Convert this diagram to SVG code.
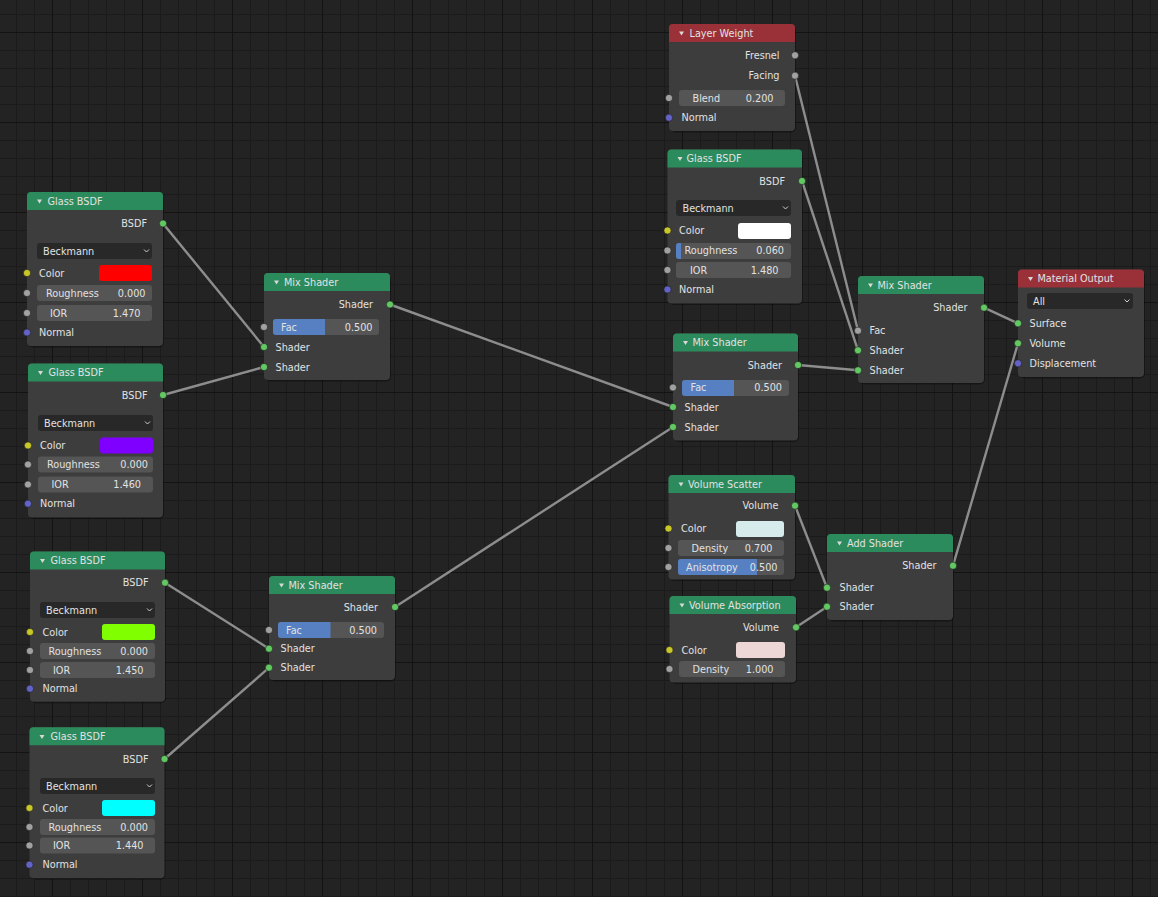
<svg xmlns="http://www.w3.org/2000/svg" width="1158" height="897" viewBox="0 0 1158 897">
<style>
.n{fill:#3d3d3d}
.sh{fill:#000;opacity:.35}
.hg{fill:#2c8b5c}
.hr{fill:#9a3038}
.tri{fill:#d8d8d8}
text{font-family:"DejaVu Sans","Liberation Sans",sans-serif;font-size:9.7px;fill:#e2e2e2}
.e{text-anchor:end}
.dd{fill:#282828}
.f{fill:#555555}
.bl{fill:#5680c2}
.ch{fill:none;stroke:#cfcfcf;stroke-width:1}
.sg,.sa,.sy,.sv{stroke:#1c1c1c;stroke-width:.6}
.sg{fill:#63c763}
.sa{fill:#a1a1a1}
.sy{fill:#c7c729}
.sv{fill:#6363c7}
.lk{stroke:#8d8d8d;stroke-width:2.4;fill:none;stroke-linecap:round}
</style>
<defs>
<pattern id="minor" width="18" height="18" x="16" y="14" patternUnits="userSpaceOnUse">
<rect width="1" height="18" fill="#1b1b1b"/><rect width="18" height="1" fill="#1b1b1b"/>
</pattern>
<pattern id="major" width="90" height="90" x="52" y="32" patternUnits="userSpaceOnUse">
<rect width="1" height="90" fill="#131313"/><rect width="90" height="1" fill="#131313"/>
</pattern>
</defs>
<rect width="1158" height="897" fill="#232323"/>
<rect width="1158" height="897" fill="url(#minor)"/>
<rect width="1158" height="897" fill="url(#major)"/>

<g id="connectors">
<path class="lk" d="M163,223.5 L264,347"/>
<path class="lk" d="M163,395 L264,367"/>
<path class="lk" d="M390,304.5 L673,407"/>
<path class="lk" d="M165,582.7 L269,648.7"/>
<path class="lk" d="M164.5,759 L269,667.7"/>
<path class="lk" d="M395,607 L673,427"/>
<path class="lk" d="M795,75.7 L858,330.7"/>
<path class="lk" d="M802,181 L858,350.3"/>
<path class="lk" d="M798,365 L858,370.3"/>
<path class="lk" d="M984,307.7 L1018,323.3"/>
<path class="lk" d="M795,505.7 L827,587.7"/>
<path class="lk" d="M796,627.3 L827,606.7"/>
<path class="lk" d="M953,565.7 L1018,343.3"/>
</g>

<g id="glass1">
<rect class="sh" x="28" y="193.5" width="136" height="154" rx="5"/>
<rect class="n" x="27" y="192" width="136" height="154" rx="4"/>
<path class="hg" d="M27,210 V196 Q27,192 31,192 H159 Q163,192 163,196 V210 Z"/>
<polygon class="tri" points="37,199.5 42,199.5 39.5,203.5"/>
<text x="47.5" y="204.5">Glass BSDF</text>
<text class="e" x="147" y="227">BSDF</text>
<rect class="dd" x="37" y="243" width="115" height="16" rx="3"/>
<text x="43" y="254.5">Beckmann</text>
<polyline class="ch" points="144,249.5 146.5,252 149,249.5"/>
<text x="39" y="276.5">Color</text>
<rect x="99" y="265" width="53" height="16" rx="3" fill="#ff0000"/>
<rect class="f" x="37" y="285" width="115" height="16" rx="3"/>
<text x="46" y="296.5">Roughness</text>
<text class="e" x="145.5" y="296.5">0.000</text>
<rect class="f" x="37" y="305" width="115" height="16" rx="3"/>
<text x="50" y="316.5">IOR</text>
<text class="e" x="140.5" y="316.5">1.470</text>
<text x="39" y="336">Normal</text>
<circle class="sg" cx="163" cy="223.5" r="3.6"/>
<circle class="sy" cx="27" cy="273" r="3.6"/>
<circle class="sa" cx="27" cy="293" r="3.6"/>
<circle class="sa" cx="27" cy="313" r="3.6"/>
<circle class="sv" cx="27" cy="332.5" r="3.6"/>
</g>

<g id="glass2">
<rect class="sh" x="29" y="365" width="135" height="154" rx="5"/>
<rect class="n" x="28" y="363.5" width="135" height="154" rx="4"/>
<path class="hg" d="M28,381.5 V367.5 Q28,363.5 32,363.5 H159 Q163,363.5 163,367.5 V381.5 Z"/>
<polygon class="tri" points="38,371 43,371 40.5,375"/>
<text x="48.5" y="376">Glass BSDF</text>
<text class="e" x="147.5" y="398.5">BSDF</text>
<rect class="dd" x="38" y="415" width="115" height="16" rx="3"/>
<text x="44" y="426.5">Beckmann</text>
<polyline class="ch" points="145,421.5 147.5,424 150,421.5"/>
<text x="40" y="449">Color</text>
<rect x="100" y="437.5" width="53" height="16" rx="3" fill="#8000ff"/>
<rect class="f" x="38" y="456.5" width="115" height="16" rx="3"/>
<text x="47" y="468">Roughness</text>
<text class="e" x="148" y="468">0.000</text>
<rect class="f" x="38" y="476.5" width="115" height="16" rx="3"/>
<text x="51.5" y="488">IOR</text>
<text class="e" x="141" y="488">1.460</text>
<text x="40" y="507.2">Normal</text>
<circle class="sg" cx="163" cy="395" r="3.6"/>
<circle class="sy" cx="28" cy="445.5" r="3.6"/>
<circle class="sa" cx="28" cy="464.5" r="3.6"/>
<circle class="sa" cx="28" cy="484.5" r="3.6"/>
<circle class="sv" cx="28" cy="503.7" r="3.6"/>
</g>

<g id="glass3">
<rect class="sh" x="31" y="553" width="135" height="150.2" rx="5"/>
<rect class="n" x="30" y="551.5" width="135" height="150.2" rx="4"/>
<path class="hg" d="M30,569.5 V555.5 Q30,551.5 34,551.5 H161 Q165,551.5 165,555.5 V569.5 Z"/>
<polygon class="tri" points="40,559 45,559 42.5,563"/>
<text x="50.5" y="564">Glass BSDF</text>
<text class="e" x="148.5" y="586.2">BSDF</text>
<rect class="dd" x="40" y="602" width="115" height="16" rx="3"/>
<text x="46" y="613.5">Beckmann</text>
<polyline class="ch" points="147,608.5 149.5,611 152,608.5"/>
<text x="42.5" y="635.5">Color</text>
<rect x="102" y="624" width="53" height="16" rx="3" fill="#80ff00"/>
<rect class="f" x="40" y="643" width="115" height="16" rx="3"/>
<text x="48.5" y="654.5">Roughness</text>
<text class="e" x="148" y="654.5">0.000</text>
<rect class="f" x="40" y="662" width="115" height="16" rx="3"/>
<text x="53" y="673.5">IOR</text>
<text class="e" x="143.5" y="673.5">1.450</text>
<text x="42.5" y="692.2">Normal</text>
<circle class="sg" cx="165" cy="582.7" r="3.6"/>
<circle class="sy" cx="30" cy="632" r="3.6"/>
<circle class="sa" cx="30" cy="651" r="3.6"/>
<circle class="sa" cx="30" cy="670" r="3.6"/>
<circle class="sv" cx="30" cy="688.7" r="3.6"/>
</g>

<g id="glass4">
<rect class="sh" x="30.5" y="728.8" width="135" height="151" rx="5"/>
<rect class="n" x="29.5" y="727.3" width="135" height="151" rx="4"/>
<path class="hg" d="M29.5,745.3 V731.3 Q29.5,727.3 33.5,727.3 H160.5 Q164.5,727.3 164.5,731.3 V745.3 Z"/>
<polygon class="tri" points="39.5,735 44.5,735 42,739"/>
<text x="50.5" y="740">Glass BSDF</text>
<text class="e" x="148.5" y="762.5">BSDF</text>
<rect class="dd" x="40" y="778" width="115" height="16" rx="3"/>
<text x="46" y="789.5">Beckmann</text>
<polyline class="ch" points="147,784.5 149.5,787 152,784.5"/>
<text x="42.5" y="811.5">Color</text>
<rect x="102" y="800" width="53" height="16" rx="3" fill="#00ffff"/>
<rect class="f" x="40" y="819" width="115" height="16" rx="3"/>
<text x="48.5" y="830.5">Roughness</text>
<text class="e" x="148" y="830.5">0.000</text>
<rect class="f" x="40" y="837.5" width="115" height="16" rx="3"/>
<text x="53" y="849">IOR</text>
<text class="e" x="143.5" y="849">1.440</text>
<text x="42.5" y="868.2">Normal</text>
<circle class="sg" cx="164.5" cy="759" r="3.6"/>
<circle class="sy" cx="29.5" cy="808" r="3.6"/>
<circle class="sa" cx="29.5" cy="827" r="3.6"/>
<circle class="sa" cx="29.5" cy="845.5" r="3.6"/>
<circle class="sv" cx="29.5" cy="864.7" r="3.6"/>
</g>

<g id="mix1">
<rect class="sh" x="265" y="274.5" width="126" height="107" rx="5"/>
<rect class="n" x="264" y="273" width="126" height="107" rx="4"/>
<path class="hg" d="M264,291 V277 Q264,273 268,273 H386 Q390,273 390,277 V291 Z"/>
<polygon class="tri" points="274,280.5 279,280.5 276.5,284.5"/>
<text x="284" y="285.5">Mix Shader</text>
<text class="e" x="373" y="308">Shader</text>
<rect class="f" x="273" y="319" width="106" height="16" rx="3"/>
<path class="bl" d="M276,319 H325 V335 H276 Q273,335 273,332 V322 Q273,319 276,319 Z"/>
<text x="281" y="330.5">Fac</text>
<text class="e" x="372.5" y="330.5">0.500</text>
<text x="275.5" y="350.5">Shader</text>
<text x="275.5" y="370.5">Shader</text>
<circle class="sg" cx="390" cy="304.5" r="3.6"/>
<circle class="sa" cx="264" cy="327" r="3.6"/>
<circle class="sg" cx="264" cy="347" r="3.6"/>
<circle class="sg" cx="264" cy="367" r="3.6"/>
</g>

<g id="mix2">
<rect class="sh" x="270" y="577.5" width="126" height="104" rx="5"/>
<rect class="n" x="269" y="576" width="126" height="104" rx="4"/>
<path class="hg" d="M269,594 V580 Q269,576 273,576 H391 Q395,576 395,580 V594 Z"/>
<polygon class="tri" points="279,583.5 284,583.5 281.5,587.5"/>
<text x="288.5" y="588.5">Mix Shader</text>
<text class="e" x="378" y="610.5">Shader</text>
<rect class="f" x="278" y="622" width="106" height="16" rx="3"/>
<path class="bl" d="M281,622 H330.5 V638 H281 Q278,638 278,635 V625 Q278,622 281,622 Z"/>
<text x="286" y="633.5">Fac</text>
<text class="e" x="377" y="633.5">0.500</text>
<text x="280.5" y="652.2">Shader</text>
<text x="280.5" y="671.2">Shader</text>
<circle class="sg" cx="395" cy="607" r="3.6"/>
<circle class="sa" cx="269" cy="630" r="3.6"/>
<circle class="sg" cx="269" cy="648.7" r="3.6"/>
<circle class="sg" cx="269" cy="667.7" r="3.6"/>
</g>

<g id="mix3">
<rect class="sh" x="674" y="335" width="125" height="107" rx="5"/>
<rect class="n" x="673" y="333.5" width="125" height="107" rx="4"/>
<path class="hg" d="M673,351.5 V337.5 Q673,333.5 677,333.5 H794 Q798,333.5 798,337.5 V351.5 Z"/>
<polygon class="tri" points="683,341 688,341 685.5,345"/>
<text x="692.5" y="346">Mix Shader</text>
<text class="e" x="782" y="368.5">Shader</text>
<rect class="f" x="682" y="380" width="107" height="16" rx="3"/>
<path class="bl" d="M685,380 H734 V396 H685 Q682,396 682,393 V383 Q682,380 685,380 Z"/>
<text x="690.5" y="391">Fac</text>
<text class="e" x="782" y="391">0.500</text>
<text x="684.5" y="410.5">Shader</text>
<text x="684.5" y="430.5">Shader</text>
<circle class="sg" cx="798" cy="365" r="3.6"/>
<circle class="sa" cx="673" cy="387.5" r="3.6"/>
<circle class="sg" cx="673" cy="407" r="3.6"/>
<circle class="sg" cx="673" cy="427" r="3.6"/>
</g>

<g id="mix4">
<rect class="sh" x="859" y="277.5" width="126" height="107" rx="5"/>
<rect class="n" x="858" y="276" width="126" height="107" rx="4"/>
<path class="hg" d="M858,294 V280 Q858,276 862,276 H980 Q984,276 984,280 V294 Z"/>
<polygon class="tri" points="868,283.5 873,283.5 870.5,287.5"/>
<text x="877.5" y="288.5">Mix Shader</text>
<text class="e" x="967.5" y="311.2">Shader</text>
<text x="869.5" y="334.2">Fac</text>
<text x="869.5" y="353.8">Shader</text>
<text x="869.5" y="373.8">Shader</text>
<circle class="sg" cx="984" cy="307.7" r="3.6"/>
<circle class="sa" cx="858" cy="330.7" r="3.6"/>
<circle class="sg" cx="858" cy="350.3" r="3.6"/>
<circle class="sg" cx="858" cy="370.3" r="3.6"/>
</g>

<g id="material-output">
<rect class="sh" x="1019" y="271" width="126" height="107.5" rx="5"/>
<rect class="n" x="1018" y="269.5" width="126" height="107.5" rx="4"/>
<path class="hr" d="M1018,287.5 V273.5 Q1018,269.5 1022,269.5 H1140 Q1144,269.5 1144,273.5 V287.5 Z"/>
<polygon class="tri" points="1028,277 1033,277 1030.5,281"/>
<text x="1037.5" y="282">Material Output</text>
<rect class="dd" x="1027" y="293" width="106" height="16" rx="3"/>
<text x="1033" y="304.5">All</text>
<polyline class="ch" points="1124.5,299.5 1127,302 1129.5,299.5"/>
<text x="1029.5" y="326.8">Surface</text>
<text x="1029.5" y="346.8">Volume</text>
<text x="1029.5" y="366.8">Displacement</text>
<circle class="sg" cx="1018" cy="323.3" r="3.6"/>
<circle class="sg" cx="1018" cy="343.3" r="3.6"/>
<circle class="sv" cx="1018" cy="363.3" r="3.6"/>
</g>

<g id="layer-weight">
<rect class="sh" x="670" y="25.5" width="126" height="107" rx="5"/>
<rect class="n" x="669" y="24" width="126" height="107" rx="4"/>
<path class="hr" d="M669,42 V28 Q669,24 673,24 H791 Q795,24 795,28 V42 Z"/>
<polygon class="tri" points="679,31.5 684,31.5 681.5,35.5"/>
<text x="689.5" y="36.5">Layer Weight</text>
<text class="e" x="779.5" y="58.8">Fresnel</text>
<text class="e" x="779.5" y="79.2">Facing</text>
<rect class="f" x="679" y="90" width="106" height="16" rx="3"/>
<text x="692.5" y="101.5">Blend</text>
<text class="e" x="773.5" y="101.5">0.200</text>
<text x="681.5" y="121.2">Normal</text>
<circle class="sa" cx="795" cy="55.3" r="3.6"/>
<circle class="sa" cx="795" cy="75.7" r="3.6"/>
<circle class="sa" cx="669" cy="98" r="3.6"/>
<circle class="sv" cx="669" cy="117.7" r="3.6"/>
</g>

<g id="glass-top">
<rect class="sh" x="668.5" y="151" width="134.5" height="154" rx="5"/>
<rect class="n" x="667.5" y="149.5" width="134.5" height="154" rx="4"/>
<path class="hg" d="M667.5,167.5 V153.5 Q667.5,149.5 671.5,149.5 H798 Q802,149.5 802,153.5 V167.5 Z"/>
<polygon class="tri" points="677.5,157 682.5,157 680,161"/>
<text x="686.5" y="162">Glass BSDF</text>
<text class="e" x="785" y="184.5">BSDF</text>
<rect class="dd" x="676" y="200" width="115" height="16" rx="3"/>
<text x="682.5" y="211.5">Beckmann</text>
<polyline class="ch" points="783,206.5 785.5,209 788,206.5"/>
<text x="679" y="234">Color</text>
<rect x="738" y="223" width="53" height="16" rx="3" fill="#ffffff"/>
<rect class="f" x="676" y="243" width="115" height="16" rx="3"/>
<path class="bl" d="M679,243 H681 V259 H679 Q676,259 676,256 V246 Q676,243 679,243 Z"/>
<text x="684.5" y="254">Roughness</text>
<text class="e" x="784" y="254">0.060</text>
<rect class="f" x="676" y="262" width="115" height="16" rx="3"/>
<text x="690" y="273.5">IOR</text>
<text class="e" x="778.5" y="273.5">1.480</text>
<text x="679" y="293">Normal</text>
<circle class="sg" cx="802" cy="181" r="3.6"/>
<circle class="sy" cx="667.5" cy="230.5" r="3.6"/>
<circle class="sa" cx="667.5" cy="250.5" r="3.6"/>
<circle class="sa" cx="667.5" cy="270" r="3.6"/>
<circle class="sv" cx="667.5" cy="289.5" r="3.6"/>
</g>

<g id="volume-scatter">
<rect class="sh" x="669.5" y="476.5" width="126.5" height="104.5" rx="5"/>
<rect class="n" x="668.5" y="475" width="126.5" height="104.5" rx="4"/>
<path class="hg" d="M668.5,493 V479 Q668.5,475 672.5,475 H791 Q795,475 795,479 V493 Z"/>
<polygon class="tri" points="678.5,482.5 683.5,482.5 681,486.5"/>
<text x="688" y="487.5">Volume Scatter</text>
<text class="e" x="778.5" y="509.2">Volume</text>
<text x="681" y="532">Color</text>
<rect x="736" y="521" width="48" height="16" rx="3" fill="#d6ebeb"/>
<rect class="f" x="678" y="540" width="106" height="16" rx="3"/>
<text x="691.5" y="551.5">Density</text>
<text class="e" x="772.5" y="551.5">0.700</text>
<rect class="f" x="678" y="559" width="106" height="16" rx="3"/>
<path class="bl" d="M681,559 H757 V575 H681 Q678,575 678,572 V562 Q678,559 681,559 Z"/>
<text x="686" y="570.5">Anisotropy</text>
<text class="e" x="777.5" y="570.5">0.500</text>
<circle class="sg" cx="795" cy="505.7" r="3.6"/>
<circle class="sy" cx="668.5" cy="528.5" r="3.6"/>
<circle class="sa" cx="668.5" cy="548" r="3.6"/>
<circle class="sa" cx="668.5" cy="567" r="3.6"/>
</g>

<g id="volume-absorption">
<rect class="sh" x="670.5" y="597.5" width="126.5" height="86.5" rx="5"/>
<rect class="n" x="669.5" y="596" width="126.5" height="86.5" rx="4"/>
<path class="hg" d="M669.5,614 V600 Q669.5,596 673.5,596 H792 Q796,596 796,600 V614 Z"/>
<polygon class="tri" points="679.5,603.5 684.5,603.5 682,607.5"/>
<text x="689" y="608.5">Volume Absorption</text>
<text class="e" x="779" y="630.8">Volume</text>
<text x="681.5" y="653.5">Color</text>
<rect x="736" y="642" width="49" height="16" rx="3" fill="#ecd6d6"/>
<rect class="f" x="679" y="661" width="106" height="16" rx="3"/>
<text x="692.5" y="672.5">Density</text>
<text class="e" x="773.5" y="672.5">1.000</text>
<circle class="sg" cx="796" cy="627.3" r="3.6"/>
<circle class="sy" cx="669.5" cy="650" r="3.6"/>
<circle class="sa" cx="669.5" cy="669" r="3.6"/>
</g>

<g id="add-shader">
<rect class="sh" x="828" y="535.5" width="126" height="86" rx="5"/>
<rect class="n" x="827" y="534" width="126" height="86" rx="4"/>
<path class="hg" d="M827,552 V538 Q827,534 831,534 H949 Q953,534 953,538 V552 Z"/>
<polygon class="tri" points="837,541.5 842,541.5 839.5,545.5"/>
<text x="847" y="546.5">Add Shader</text>
<text class="e" x="936.5" y="569.2">Shader</text>
<text x="839.5" y="591.2">Shader</text>
<text x="839.5" y="610.2">Shader</text>
<circle class="sg" cx="953" cy="565.7" r="3.6"/>
<circle class="sg" cx="827" cy="587.7" r="3.6"/>
<circle class="sg" cx="827" cy="606.7" r="3.6"/>
</g>
</svg>
